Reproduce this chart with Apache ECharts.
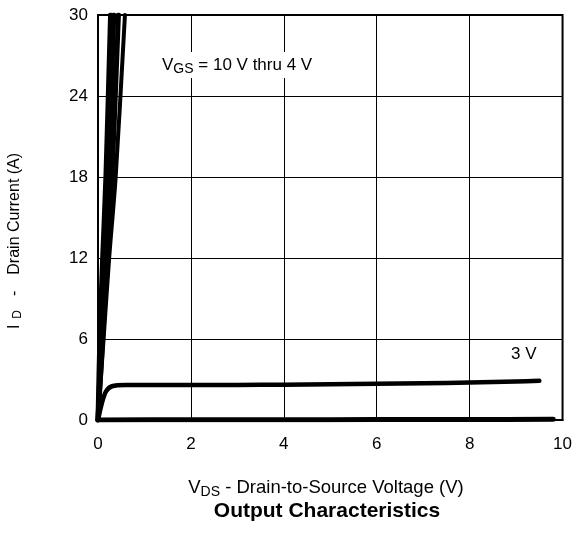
<!DOCTYPE html>
<html>
<head>
<meta charset="utf-8">
<script src="https://cdn.jsdelivr.net/npm/echarts@6/dist/echarts.min.js"></script>
<style>
  html, body { margin: 0; padding: 0; background: #fff; }
  #chart { width: 575px; height: 533px; }
</style>
</head>
<body>
<div id="chart"></div>
<script>
  // 轴刻度
  const xTicks = [0, 2, 4, 6, 8, 10]
  const yTicks = [0, 6, 12, 18, 24, 30]

  // VGS = 10 V thru 4 V (steep curves)
  const vgs10 = [[0, 0], [0.04, 6], [0.1, 12], [0.17, 18], [0.27, 30]]
  const vgs8 = [[0, 0], [0.07, 6], [0.14, 12], [0.22, 18], [0.34, 30]]
  const vgs6 = [[0, 0], [0.1, 6], [0.2, 12], [0.3, 18], [0.44, 30]]
  const vgs4 = [[0, 0], [0.12, 6], [0.24, 12], [0.38, 18], [0.58, 30]]
  // 3 V
  const vgs3 = [[0, 0], [0.08, 1.2], [0.17, 2.1], [0.3, 2.5], [0.6, 2.6], [1, 2.6], [2, 2.6], [3, 2.6], [4, 2.62],
    [5, 2.65], [6, 2.68], [7, 2.72], [8, 2.78], [9, 2.85], [9.5, 2.9]]
  // 2 V
  const vgs2 = [[0, 0], [2, 0.02], [4, 0.02], [6, 0.03], [8, 0.04], [9.8, 0.05]]

  const font = 'Liberation Sans, Arial, sans-serif'
  const curveStyle = (data, w) => ({
    type: 'line',
    data,
    symbol: 'none',
    smooth: 0.3,
    clip: true,
    lineStyle: { color: '#000', width: w, cap: 'round', join: 'round' },
  })

  const chart = echarts.init(document.getElementById('chart'), null, { renderer: 'canvas' })
  chart.setOption({
    animation: false,
    backgroundColor: '#fff',
    textStyle: { fontFamily: font },
    grid: { left: 98, top: 15, right: 10, bottom: 113, show: true, borderColor: '#000', borderWidth: 2, backgroundColor: 'transparent' },
    xAxis: {
      type: 'value',
      min: xTicks[0],
      max: xTicks[xTicks.length - 1],
      interval: 2,
      axisLine: { show: true, lineStyle: { color: '#000', width: 2 } },
      axisTick: { show: false },
      splitLine: { show: true, lineStyle: { color: '#000', width: 1 } },
      axisLabel: { color: '#000', fontSize: 17, margin: 16, fontFamily: font },
    },
    yAxis: {
      type: 'value',
      min: yTicks[0],
      max: yTicks[yTicks.length - 1],
      interval: 6,
      axisLine: { show: true, lineStyle: { color: '#000', width: 2 } },
      axisTick: { show: false },
      splitLine: { show: true, lineStyle: { color: '#000', width: 1 } },
      axisLabel: { color: '#000', fontSize: 17, margin: 10, fontFamily: font },
    },
    graphic: [
      {
        type: 'text',
        left: 160,
        top: 52,
        z: 100,
        style: {
          text: '{n|V}{s|GS}{n| = 10 V thru 4 V}',
          backgroundColor: '#fff',
          padding: [2, 2],
          rich: {
            n: { fontSize: 17, fill: '#000', fontFamily: font },
            s: { fontSize: 14, fill: '#000', fontFamily: font, padding: [8, 0, 0, 0] },
          },
        },
      },
      {
        type: 'text',
        left: 511,
        top: 346,
        z: 100,
        style: { text: '3 V', fontSize: 17, fill: '#000', fontFamily: font },
      },
      {
        // y 轴名称
        type: 'text',
        x: 15,
        y: 241,
        rotation: Math.PI / 2,
        style: {
          text: '{n|I}{s|D}{n|-}{m|Drain Current (A)}',
          align: 'center',
          verticalAlign: 'middle',
          rich: {
            n: { fontSize: 16, fill: '#000', fontFamily: font, padding: [0, 0, 0, 0] },
            s: { fontSize: 12, fill: '#000', fontFamily: font, padding: [6, 14, 0, 6] },
            m: { fontSize: 16, fill: '#000', fontFamily: font, padding: [0, 0, 0, 16] },
          },
        },
      },
      {
        // x 轴名称
        type: 'text',
        x: 326,
        y: 488,
        style: {
          text: '{n|V}{s|DS}{n| - Drain-to-Source Voltage (V)}',
          align: 'center',
          verticalAlign: 'middle',
          rich: {
            n: { fontSize: 18.5, fill: '#000', fontFamily: font },
            s: { fontSize: 14, fill: '#000', fontFamily: font, padding: [8, 0, 0, 0] },
          },
        },
      },
      {
        type: 'text',
        x: 327,
        y: 511,
        style: {
          text: 'Output Characteristics',
          align: 'center',
          verticalAlign: 'middle',
          fontSize: 21,
          fontWeight: 'bold',
          fill: '#000',
          fontFamily: font,
        },
      },
    ],
    series: [
      curveStyle(vgs10, 5),
      curveStyle(vgs8, 5),
      curveStyle(vgs6, 5),
      curveStyle(vgs4, 4),
      curveStyle(vgs3, 4.5),
      curveStyle(vgs2, 5),
    ],
  })
</script>
</body>
</html>
